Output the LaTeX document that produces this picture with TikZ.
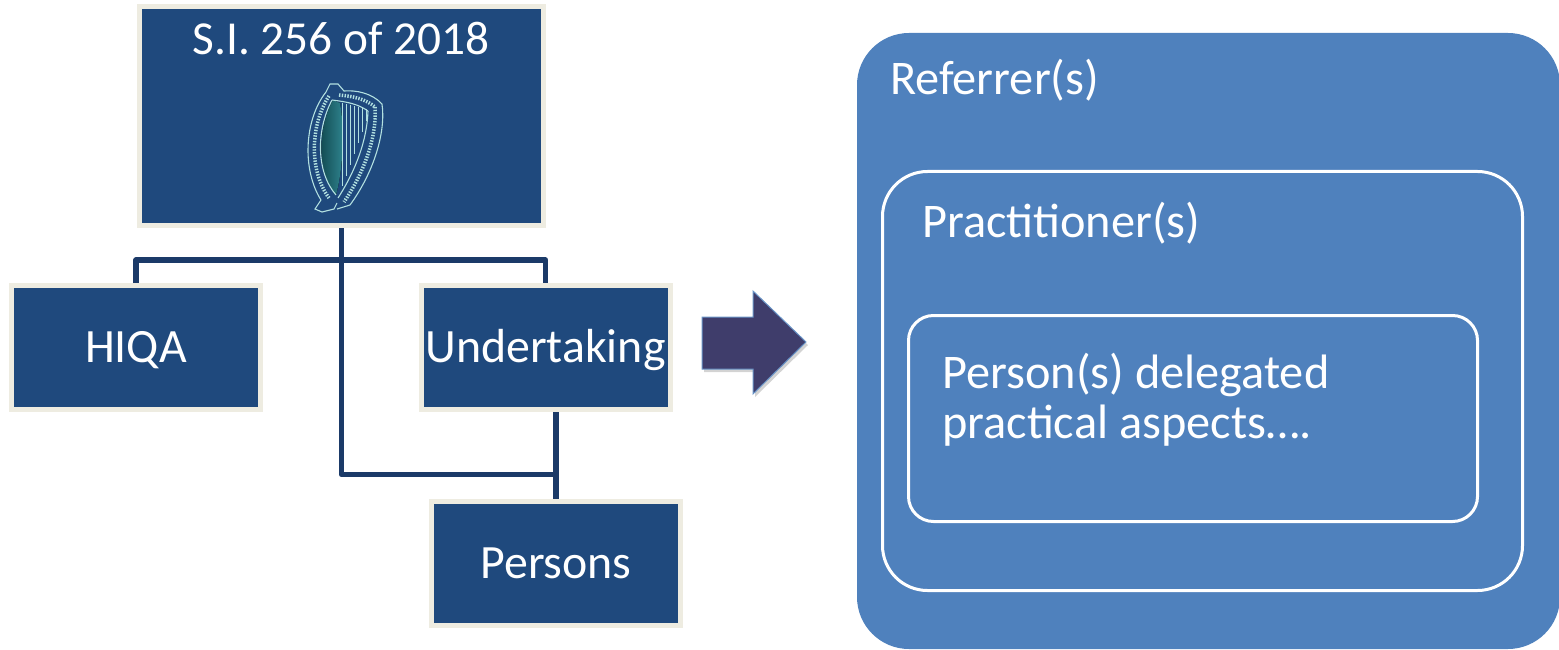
\documentclass[tikz,border=0pt]{standalone}
\usepackage{fontspec}
\setmainfont{Carlito}
\usetikzlibrary{calc,shadows}
\definecolor{boxblue}{HTML}{1F497D}
\definecolor{framec}{HTML}{EEECE1}
\definecolor{connc}{HTML}{1B3A68}
\definecolor{bigblue}{HTML}{4F81BD}
\definecolor{arrowfill}{HTML}{3F3D6B}
\definecolor{harpline}{HTML}{B2E0E0}
\definecolor{harpteal}{HTML}{1A7A86}
\begin{document}
\begin{tikzpicture}[x=1bp,y=-1bp,
  orgbox/.style={draw=framec, line width=5bp, fill=boxblue, minimum width=249bp,
    minimum height=124bp, inner sep=0pt, text=white, text height=30bp, text depth=0pt,
    font=\fontsize{48}{56}\selectfont},
  conn/.style={draw=connc, line width=5.5bp, line join=round},
  roundbox/.style={draw=white, line width=3bp, inner sep=0pt, fill=bigblue},
  lbl/.style={text=white, font=\fontsize{48.5}{56}\selectfont, inner sep=0pt, anchor=base west},
  harp/.style={draw=harpline, line width=1.1bp},
  harpchain/.style={draw=harpline, line width=3.5bp, dash pattern=on 1.4bp off 1.4bp}
]
\useasboundingbox (0,0) rectangle (1559,650);

% ---------- left organisation chart ----------
\node[orgbox, minimum width=404bp, minimum height=219bp] (top) at (341.5,116) {};
\node[text=white, font=\fontsize{47.5}{56}\selectfont, inner sep=0pt, anchor=base] (sititle) at (341,55) {S.I. 256 of 2018};

\node[orgbox] (hiqa) at (136,347.5) {HIQA};
\node[orgbox] (undert) at (545.5,347.5) {Undertaking};
\node[orgbox] (persons) at (556,563) {Persons};

\draw[conn] (top.south) -- ++(0,32) coordinate (bus);
\draw[conn] (hiqa.north) |- (bus) -| (undert.north);
\draw[conn] (bus) |- ($(persons.north)+(0,-24)$) coordinate (elbow);
\draw[conn] (persons.north |- undert.south) -- (persons.north);

% ---------- harp emblem ----------
% teal crescent
\fill[left color=harpteal!55!black, right color=harpteal!90!white]
  (333,100) .. controls (317,130) and (317,172) .. (336,195)
  .. controls (343,170) and (345,130) .. (340,103) -- cycle;
% strings
\foreach \sx/\ty/\by in {342/103/186, 346/104/176, 350/105/165, 354/106/154, 358/107/143, 362/108/132, 366/109/121}
  \draw[harpline, line width=0.7bp] (\sx,\ty) -- (\sx,\by);
% pillar
\draw[harpchain] (329,96) .. controls (310,125) and (309,171) .. (329,198);
\draw[harp] (326,92) .. controls (304,120) and (302,170) .. (321,200);
\draw[harp] (332,100) .. controls (316,130) and (316,172) .. (336,195);
% foot
\draw[harp] (321,200) -- (315,209) -- (322,212) -- (334,209) -- (337,203);
% head and neck
\draw[harp] (326,92) -- (330,84) -- (338,84) -- (344,91)
  .. controls (356,90) and (372,93) .. (382,104);
\draw[harp] (332,100) .. controls (348,102) and (358,104) .. (368,111);
\draw[harpchain] (339,95) .. controls (352,96) and (366,99) .. (375,107);
% sound box
\draw[harp] (382,104) .. controls (386,132) and (374,172) .. (350,205);
\draw[harp] (368,111) .. controls (367,140) and (356,170) .. (338,198);
\draw[harpchain] (375,107) .. controls (377,136) and (365,171) .. (344,202);
\draw[harp] (350,205) -- (337,209);

% ---------- arrow ----------
\path[fill=arrowfill, draw=bigblue!85!white, line width=1bp,
      drop shadow={opacity=0.35, shadow xshift=2bp, shadow yshift=-3bp}]
  (702,317) -- (753,317) -- (753,291) -- (806,342) -- (753,394) -- (753,369) -- (702,369) -- cycle;

% ---------- right nested boxes ----------
\node[fill=bigblue, draw=none, rounded corners=52bp, minimum width=703bp, minimum height=616bp, inner sep=0pt] (refbox) at (1208.5,341) {};
\node[roundbox, rounded corners=45bp, minimum width=640bp, minimum height=419bp] (pracbox) at (1202.5,381) {};
\node[roundbox, rounded corners=25bp, minimum width=569bp, minimum height=206bp] (delbox) at (1193,418.5) {};

\node[lbl] (reflbl) at (890,95) {Referrer(s)};
\node[lbl] (praclbl) at (922,237) {Practitioner(s)};
\node[lbl] (dellblA) at (942,388) {Person(s) delegated};
\node[lbl] (dellblB) at (942,438) {practical aspects\dots.};
\end{tikzpicture}
\end{document}
